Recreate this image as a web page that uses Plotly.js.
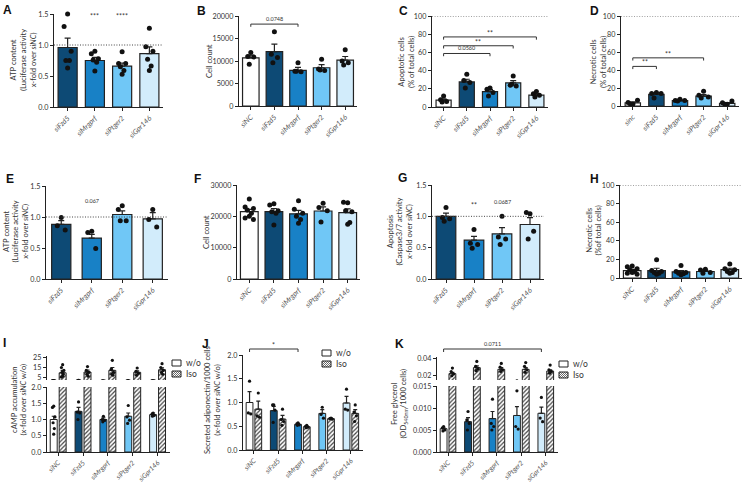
<!DOCTYPE html>
<html><head><meta charset="utf-8">
<script src="https://cdn.plot.ly/plotly-3.0.1.min.js"></script>
<style>html,body{margin:0;padding:0;background:#fff}#chart{width:743px;height:483px}</style>
</head><body><div id="chart"></div>
<script>
// ================= DATA =================
const labels5 = ['siNC','siFzd5','siMrgprf','siPtger2','siGpr146'];
const labels4 = ['siFzd5','siMrgprf','siPtger2','siGpr146'];
const labelsD = ['sinc','siFzd5','siMrgprf','siPtger2','siGpr146'];

// A: ATP content
const meanA = [0.96, 0.75, 0.66, 0.86];
const semA  = [0.15, 0.05, 0.05, 0.11];
const dotsA = [[1.50,1.30,0.90,0.75,0.75,0.63],[0.90,0.86,0.78,0.76,0.72,0.58],[0.89,0.70,0.70,0.65,0.59,0.53],[1.27,0.97,0.90,0.77,0.66,0.59]];
// B: cell count
const meanB = [10700, 12100, 7900, 8500, 10200];
const semB  = [600, 1650, 700, 700, 800];
const dotsB = [[11900,11000,10900,9300],[16500,11500,10800,9600],[9600,7700,7600,7700],[10400,8200,7900,8000],[12500,10000,9600,9100]];
// C: apoptotic cells
const meanC = [7.5, 27.5, 17, 26.5, 13];
const semC  = [1.5, 3, 2, 2.5, 1.5];
const dotsC = [[12,8,6,5.5],[36,29,27,21],[21,19.5,16,12],[34,24,23,25],[17,14.5,13,11]];
// D: necrotic cells
const meanD = [3.5, 13, 6, 11, 3];
const semD  = [1, 1.5, 0.6, 1.7, 0.8];
const dotsD = [[2,4,6.5,2],[15,14,14,9],[7.5,6,6,5.5],[16.5,12,10,9],[2,3.5,5.5,2]];
// E: ATP content
const meanE = [0.88, 0.66, 1.04, 0.97];
const semE  = [0.06, 0.06, 0.06, 0.10];
const dotsE = [[0.99,0.86,0.79],[0.77,0.75,0.49],[1.18,1.12,0.94,0.94],[1.12,0.96,0.84]];
// F: cell count
const meanF = [21500, 21500, 20800, 21700, 21200];
const semF  = [700, 1000, 1100, 1300, 1200];
const dotsF = [[25500,23000,22500,22000,21000,20000,19500,19000],[24000,23600,21800,21500,21000,17200],[25000,22300,21000,20000,19000,17800],[24200,22800,21800,18200],[24300,24500,21500,21800,18000,17500]];
// G: caspase 3/7
const meanG = [1.0, 0.62, 0.72, 0.87];
const semG  = [0.05, 0.06, 0.10, 0.11];
const dotsG = [[1.14,0.98,0.96,0.92],[0.79,0.57,0.55,0.49],[1.0,0.67,0.64,0.55],[1.04,1.06,0.76,0.64]];
// H: necrotic cells
const meanH = [8, 8, 6.5, 7, 9];
const semH  = [1.2, 2.5, 1.5, 1.2, 1.5];
const dotsH = [[13,12,10,9,7,6,5,4],[19.5,8,7,6,5,4],[13.5,7,6,5,4.5,3.5],[9.5,8.5,6,5],[15,10,9,7,6,5]];
// I: cAMP accumulation
const meanIwo  = [1.0, 1.25, 1.0, 1.1, 1.15];
const semIwo   = [0.1, 0.12, 0.05, 0.1, 0.05];
const dotsIwo  = [[1.41,1.37,1.08,0.9,0.72,0.55],[1.54,1.23,1.2,1.0],[1.1,1.0,0.97,0.93],[1.43,1.08,0.98,0.88],[1.2,1.16,1.13,1.1]];
const meanIiso = [9.5, 10.3, 12, 10, 12.7];
const semIiso  = [2.5, 2, 3, 1.5, 2];
const dotsIiso = [[18,15,12,10,8,6,5],[16,12,10,8,6],[22.5,13,10,8,7],[14.5,11,9,7],[19,15,12,10,8]];
// J: secreted adiponectin
const meanJwo  = [1.0, 0.83, 0.54, 0.77, 0.99];
const semJwo   = [0.23, 0.09, 0.02, 0.08, 0.14];
const dotsJwo  = [[1.45,0.78,0.76],[0.95,0.95,0.84,0.58],[0.57,0.55,0.53,0.52],[0.9,0.75,0.67],[1.28,0.86,0.84]];
const meanJiso = [0.86, 0.65, 0.49, 0.66, 0.77];
const semJiso  = [0.17, 0.08, 0.01, 0.01, 0.08];
const dotsJiso = [[1.2,0.72,0.69],[0.86,0.64,0.6,0.52],[0.52,0.5,0.48,0.47],[0.67,0.66,0.65],[0.95,0.8,0.72,0.6]];
// K: free glycerol
const meanKwo  = [0.0053, 0.0069, 0.0076, 0.0083, 0.0088];
const semKwo   = [0.0002, 0.0009, 0.0016, 0.0020, 0.0014];
const dotsKwo  = [[0.0058,0.0055,0.005,0.0048],[0.0092,0.0073,0.0065,0.005],[0.012,0.0065,0.0058,0.005],[0.0139,0.0058,0.0052],[0.0124,0.0077,0.0069]];
const meanKiso = [0.0225, 0.0295, 0.0275, 0.0275, 0.0255];
const semKiso  = [0.0015, 0.002, 0.002, 0.002, 0.0015];
const dotsKiso = [[0.029,0.025,0.022,0.020],[0.0368,0.031,0.028,0.026],[0.0345,0.030,0.027,0.025],[0.0355,0.031,0.027,0.024],[0.0325,0.027,0.025,0.023]];

// ================= STYLE / GEOMETRY =================
const W = 743, H = 483;
const FONT = 'Lato, "DejaVu Sans", sans-serif';
const colorOf = {siNC:'#ffffff', sinc:'#ffffff', siFzd5:'#0d4a75', siMrgprf:'#1881c6', siPtger2:'#70c7f6', siGpr146:'#d2ecfb'};
const geo = {
  A:{x0:54,x1:163,y0:14,y1:107},  B:{x0:239,x1:357,y0:16,y1:106},
  C:{x0:432,x1:548,y0:16,y1:107}, D:{x0:621,x1:739,y0:16,y1:106},
  E:{x0:46,x1:168,y0:186,y1:279}, F:{x0:237,x1:360,y0:185,y1:279},
  G:{x0:432,x1:544,y0:185,y1:279},H:{x0:620,x1:742,y0:185,y1:278},
  I:{x0:47,x1:170,y0:387,y1:452}, Iu:{x0:47,x1:170,y0:356,y1:380},
  J:{x0:243,x1:363,y0:355,y1:450},
  K:{x0:437,x1:558,y0:386,y1:452},Ku:{x0:437,x1:558,y0:357,y1:380}
};
// centre (px) of each y-axis title block
const titlePos = {A:[23,60], B:[209,61], C:[406,62], D:[598,62], E:[15.5,232], F:[206,232],
  G:[399.5,232], H:[593.5,231], I:[18.5,400], J:[212,400], K:[398.5,404]};
const JIT = [0, -1, 1, -0.5, 0.5, 0, -1, 1];
const GOFF = 0.18, GBW = 0.28, GRANGE = [-0.45, 4.5];

const traces = [], shapes = [], annotations = [];
const layout = {
  width: W, height: H, margin:{l:0,r:0,t:0,b:0},
  paper_bgcolor:'#ffffff', plot_bgcolor:'rgba(0,0,0,0)',
  barmode:'overlay', showlegend:false, hovermode:false,
  font:{family:FONT, color:'#333'}
};
const px = v => v / W, py = v => 1 - v / H;
const axId = (n, l) => n === 1 ? l : l + n;
const axKey = (n, l) => n === 1 ? l + 'axis' : l + 'axis' + n;

function xAxisDef(b, n, labels, range, hidden, fs) {
  const d = {domain:[b.x0/W, b.x1/W], anchor: axId(n,'y'), range: range, fixedrange:true,
    showgrid:false, zeroline:false};
  if (hidden) return Object.assign(d, {visible:false});
  return Object.assign(d, {tickmode:'array', tickvals: labels.map((_, i) => i),
    ticktext: labels.map(l => '<i>' + l + '</i>'), tickangle:-45,
    showline:true, linecolor:'#222', linewidth:1.2, ticks:'outside', ticklen:3, tickwidth:1, tickcolor:'#222',
    tickfont:{family:FONT, size:fs || 7.2, color:'#555'}});
}
function yAxisDef(b, n, o) {
  return {domain:[1 - b.y1/H, 1 - b.y0/H], anchor: axId(n,'x'), range: o.yr, fixedrange:true,
    tickmode:'array', tickvals:o.tv, tickformat:o.tf, showgrid:false, zeroline:false,
    showline:true, linecolor:'#222', linewidth:1.2, ticks:'outside', ticklen:3, tickwidth:1, tickcolor:'#222',
    tickfont:{family:FONT, size:7.2, color:'#333'}};
}
function yTitle(key, text) {
  const [x, y] = titlePos[key];
  annotations.push({xref:'paper', yref:'paper', x:px(x), y:py(y), xanchor:'center', yanchor:'middle',
    textangle:-90, showarrow:false, text:text, font:{family:FONT, size:7.6, color:'#333'}});
}
function dotTrace(n, xs, ys, size, clip) {
  return {type:'scatter', mode:'markers', x:xs, y:ys, xaxis:axId(n,'x'), yaxis:axId(n,'y'), cliponaxis:clip,
    marker:{color:'#111', size:size}, showlegend:false, hoverinfo:'skip'};
}
function refLine(n, xr, v) {
  traces.push({type:'scatter', mode:'lines', x:xr, y:[v, v], xaxis:axId(n,'x'), yaxis:axId(n,'y'),
    line:{color:'#444', width:1, dash:'1px,1.6px'}, cliponaxis:false, showlegend:false, hoverinfo:'skip'});
}
function errY(sems, w) {
  return {type:'data', array:sems, arrayminus:sems.map(() => 0), symmetric:false, color:'#222', thickness:1.2, width:w};
}

function singlePanel(n, key, labels, means, sems, dots, o) {
  const b = geo[key];
  const idx = labels.map((_, i) => i);
  const xr = [-0.5, labels.length - 0.5];
  traces.push({type:'bar', x:idx, y:means, width:o.bw, xaxis:axId(n,'x'), yaxis:axId(n,'y'),
    marker:{color:labels.map(l => colorOf[l]), line:{color:'#222', width:1.2}},
    error_y:errY(sems, 3), showlegend:false, hoverinfo:'skip'});
  const xs = [], ys = [];
  dots.forEach((arr, i) => arr.forEach((v, k) => { xs.push(i + JIT[k % JIT.length] * o.js); ys.push(v); }));
  traces.push(dotTrace(n, xs, ys, o.ms || 5, false));
  if (o.ref != null) refLine(n, xr, o.ref);
  layout[axKey(n,'x')] = xAxisDef(b, n, labels, xr, false);
  layout[axKey(n,'y')] = yAxisDef(b, n, o);
  yTitle(key, o.title);
}

function groupTraces(n, labels, mWo, sWo, dWo, mIso, sIso, dIso) {
  const xa = axId(n,'x'), ya = axId(n,'y');
  traces.push({type:'bar', x:labels.map((_, i) => i - GOFF), y:mWo, width:GBW, xaxis:xa, yaxis:ya,
    marker:{color:labels.map(l => colorOf[l]), line:{color:'#222', width:1}},
    error_y:errY(sWo, 2), showlegend:false, hoverinfo:'skip'});
  traces.push({type:'bar', x:labels.map((_, i) => i + GOFF), y:mIso, width:GBW, xaxis:xa, yaxis:ya,
    marker:{color:'#ffffff', line:{color:'#222', width:1},
      pattern:{shape:'/', fgcolor:'#444', bgcolor:'#ffffff', size:3, solidity:0.4}},
    error_y:errY(sIso, 2), showlegend:false, hoverinfo:'skip'});
  const xs = [], ys = [];
  dWo.forEach((arr, i) => arr.forEach((v, k) => { xs.push(i - GOFF + JIT[k % JIT.length] * 0.05); ys.push(v); }));
  dIso.forEach((arr, i) => arr.forEach((v, k) => { xs.push(i + GOFF + JIT[k % JIT.length] * 0.05); ys.push(v); }));
  traces.push(dotTrace(n, xs, ys, 3.2, true));
}
function groupPanel(nL, key, nU, keyU, labels, mWo, sWo, dWo, mIso, sIso, dIso, o) {
  groupTraces(nL, labels, mWo, sWo, dWo, mIso, sIso, dIso);
  layout[axKey(nL,'x')] = xAxisDef(geo[key], nL, labels, GRANGE, false, 6.8);
  layout[axKey(nL,'y')] = yAxisDef(geo[key], nL, o);
  if (nU) {
    groupTraces(nU, labels, mWo, sWo, dWo, mIso, sIso, dIso);
    layout[axKey(nU,'x')] = xAxisDef(geo[keyU], nU, labels, GRANGE, true);
    layout[axKey(nU,'y')] = yAxisDef(geo[keyU], nU, {yr:o.yrU, tv:o.tvU, tf:o.tfU});
  }
  yTitle(key, o.title);
}

// brackets inside the plot range (data coords)
function bracket(n, x0, x1, y, drop, label, fs) {
  shapes.push({type:'path', xref:axId(n,'x'), yref:axId(n,'y'),
    path:`M${x0},${y - drop} L${x0},${y} L${x1},${y} L${x1},${y - drop}`, line:{color:'#333', width:1}});
  annotations.push({xref:axId(n,'x'), yref:axId(n,'y'), x:(x0 + x1) / 2, y:y, text:label, showarrow:false,
    yanchor:'bottom', yshift: label.indexOf('*') >= 0 ? -2 : 0, font:{family:FONT, size:fs, color:'#333'}});
}
// brackets above the plot range (paper coords from the panel scale)
function bracketPx(b, x0, x1, yPx, label, fs) {
  const toPx = v => b.x0 + (v - GRANGE[0]) / (GRANGE[1] - GRANGE[0]) * (b.x1 - b.x0);
  const a = px(toPx(x0)), c = px(toPx(x1));
  shapes.push({type:'path', xref:'paper', yref:'paper',
    path:`M${a},${py(yPx + 3)} L${a},${py(yPx)} L${c},${py(yPx)} L${c},${py(yPx + 3)}`, line:{color:'#333', width:1}});
  annotations.push({xref:'paper', yref:'paper', x:(a + c) / 2, y:py(yPx), text:label, showarrow:false,
    yanchor:'bottom', yshift: label.indexOf('*') >= 0 ? -2 : 0, font:{family:FONT, size:fs, color:'#333'}});
}
function textAt(n, x, y, label, fs) {
  annotations.push({xref:axId(n,'x'), yref:axId(n,'y'), x:x, y:y, text:label, showarrow:false,
    yanchor:'middle', font:{family:FONT, size:fs, color:'#333'}});
}
// manual legend (w/o, Iso)
function legendAt(xL, yT) {
  const w = 9, h = 6, gap = 11;
  shapes.push({type:'rect', xref:'paper', yref:'paper', x0:px(xL), x1:px(xL + w), y0:py(yT + h), y1:py(yT),
    line:{color:'#222', width:1}, fillcolor:'#ffffff'});
  const y2 = yT + gap;
  let p = '';
  for (let c = 2; c < w + h; c += 2) {
    const sx = Math.min(c, w), sy = c - sx;
    const ey = Math.min(c, h), ex = c - ey;
    p += `M${px(xL + sx)},${py(y2 + sy)} L${px(xL + ex)},${py(y2 + ey)} `;
  }
  shapes.push({type:'path', xref:'paper', yref:'paper', path:p, line:{color:'#444', width:0.8}});
  shapes.push({type:'rect', xref:'paper', yref:'paper', x0:px(xL), x1:px(xL + w), y0:py(y2 + h), y1:py(y2),
    line:{color:'#222', width:1}});
  [['w/o', yT + h / 2], ['Iso', y2 + h / 2]].forEach(([t, yy]) => annotations.push({xref:'paper', yref:'paper',
    x:px(xL + w + 3), y:py(yy), text:t, showarrow:false, xanchor:'left', yanchor:'middle',
    font:{family:FONT, size:8.5, color:'#333'}}));
}

// ================= PANELS =================
const ATP_T = 'ATP content<br>(Luciferase activity<br>x-fold over <i>siNC</i>)';
singlePanel(1, 'A', labels4, meanA, semA, dotsA, {bw:0.7, js:0.13, yr:[0,1.5], tv:[0,0.5,1,1.5], tf:'.1f', ref:1, title:ATP_T});
singlePanel(2, 'B', labels5, meanB, semB, dotsB, {bw:0.7, js:0.13, yr:[0,20000], tv:[0,5000,10000,15000,20000], tf:'d', title:'Cell count'});
singlePanel(3, 'C', labels5, meanC, semC, dotsC, {bw:0.65, js:0.13, yr:[0,100], tv:[0,20,40,60,80,100], tf:'d', ref:100, title:'Apoptotic cells<br>(% of total cells)'});
singlePanel(4, 'D', labelsD, meanD, semD, dotsD, {bw:0.65, js:0.2, yr:[0,100], tv:[0,20,40,60,80,100], tf:'d', ref:100, title:'Necrotic cells<br>(% of total cells)'});
singlePanel(5, 'E', labels4, meanE, semE, dotsE, {bw:0.63, js:0.13, yr:[0,1.5], tv:[0,0.5,1,1.5], tf:'.1f', ref:1, title:ATP_T});
singlePanel(6, 'F', labels5, meanF, semF, dotsF, {bw:0.72, js:0.17, yr:[0,30000], tv:[0,10000,20000,30000], tf:'d', title:'Cell count'});
singlePanel(7, 'G', labels4, meanG, semG, dotsG, {bw:0.7, js:0.13, yr:[0,1.5], tv:[0,0.5,1,1.5], tf:'.1f', ref:1, title:'Apoptosis<br>(Caspase3/7 activity<br>x-fold over <i>siNC</i>)'});
singlePanel(8, 'H', labels5, meanH, semH, dotsH, {bw:0.72, js:0.2, yr:[0,100], tv:[0,20,40,60,80,100], tf:'d', ref:100, title:'Necrotic cells<br>(%of total cells)'});

groupPanel(9, 'I', 10, 'Iu', labels5, meanIwo, semIwo, dotsIwo, meanIiso, semIiso, dotsIiso,
  {yr:[0,2], tv:[0,0.5,1,1.5,2], tf:'.1f', yrU:[2,27], tvU:[5,15,25], tfU:'d',
   title:'cAMP accumulation<br>(x-fold over <i>siNC</i> w/o)'});
groupPanel(11, 'J', null, null, labels5, meanJwo, semJwo, dotsJwo, meanJiso, semJiso, dotsJiso,
  {yr:[0,2], tv:[0,0.5,1,1.5,2], tf:'.1f', title:'Secreted adiponectin/1000 cells<br>(x-fold over <i>siNC</i> w/o)'});
groupPanel(12, 'K', 13, 'Ku', labels5, meanKwo, semKwo, dotsKwo, meanKiso, semKiso, dotsKiso,
  {yr:[0,0.015], tv:[0,0.005,0.01,0.015], tf:'.3f', yrU:[0.015,0.042], tvU:[0.02,0.04], tfU:'.2f',
   title:'Free glycerol<br>(OD<sub>540nm</sub>/1000 cells)'});

// significance
textAt(1, 1, 1.46, '***', 7); textAt(1, 2, 1.46, '****', 7);
bracket(2, 0, 2, 18200, 600, '0.0748', 5.5);
bracket(3, 0, 2, 58.8, 3, '0.0560', 5.5);
bracket(3, 0, 3, 67.3, 3, '**', 7);
bracket(3, 0, 4, 77, 3, '**', 7);
bracket(4, 0, 1, 44, 3, '**', 7);
bracket(4, 0, 3, 53.5, 3, '**', 7);
textAt(5, 1, 1.26, '0.067', 5.5);
textAt(7, 1, 1.18, '**', 7); textAt(7, 2, 1.23, '0.0687', 5.5);
bracketPx(geo.J, -GOFF, 2 - GOFF, 349, '*', 7);
bracketPx(geo.K, -GOFF, 4 - GOFF, 349, '0.0711', 5.5);

// legends
legendAt(172, 360);
legendAt(322, 350);
legendAt(559, 361);

// panel letters
[['A',1,1],['B',195,2],['C',397,2],['D',588,2],['E',4,170],['F',192,170],['G',396,169],['H',588,170],
 ['I',1,334],['J',200,335],['K',393,335]].forEach(([t, x, y]) => annotations.push({xref:'paper', yref:'paper',
  x:px(x), y:py(y), text:'<b>' + t + '</b>', showarrow:false, xanchor:'left', yanchor:'top',
  font:{family:'"Liberation Sans", Arial, sans-serif', size:12, color:'#111'}}));

layout.shapes = shapes;
layout.annotations = annotations;
Plotly.newPlot('chart', traces, layout, {staticPlot:true, displayModeBar:false});
</script>
</body></html>
